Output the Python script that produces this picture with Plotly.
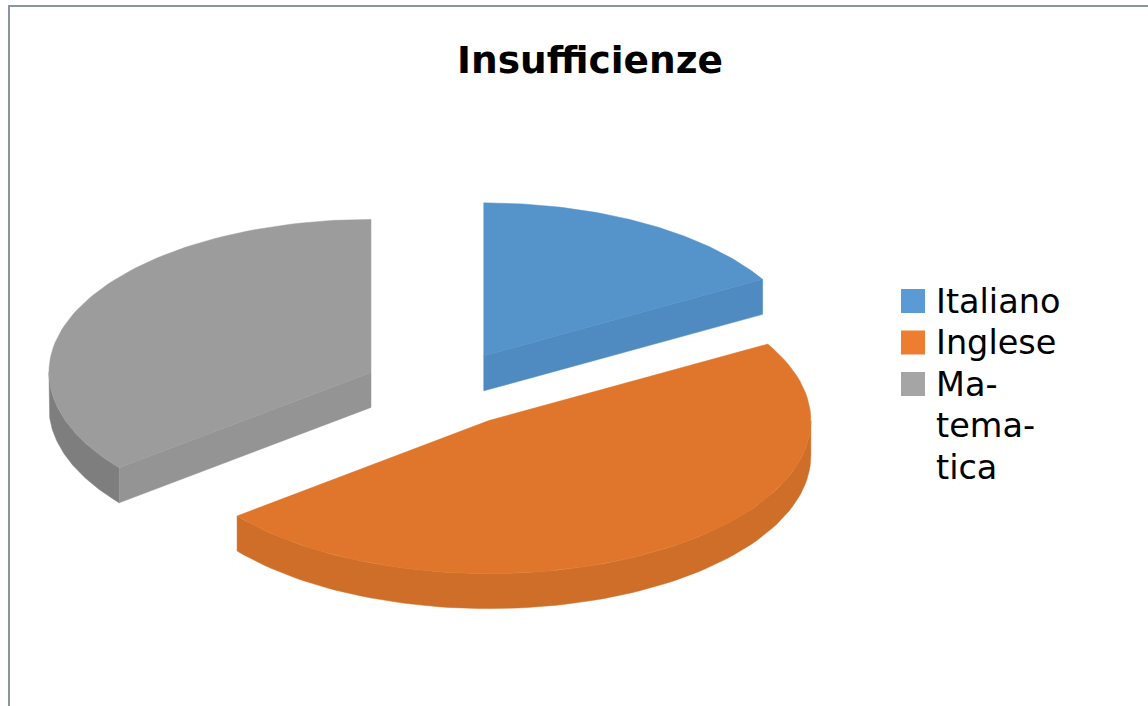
import math
import plotly.graph_objects as go

title = "Insufficienze"
categories = ["Italiano", "Inglese", "Matematica"]
legend_rows = [["Italiano"], ["Inglese"], ["Ma-", "tema-", "tica"]]
values = [7, 20, 15]
top_colors = ["#5593CB", "#E0762C", "#9C9C9C"]
face_colors = ["#4F8AC0", "#CA6A25", "#949494"]
rim_colors = ["#4F8AC0", "#CF6E28", "#7E7E7E"]
swatch_colors = ["#5B9BD5", "#ED7D31", "#A5A5A5"]

W, H = 1148, 706
CX, CY = 443.5, 389    # pie centre before explosion
RX, RY = 322, 153      # ellipse radii
DEPTH = 35
EXPLODE = 0.25


def pt(c, t, r=1.0):
    return c[0] + RX * r * math.sin(t), c[1] - RY * r * math.cos(t)


def arc(c, t0, t1, n=80, dy=0):
    pts = [pt(c, t0 + (t1 - t0) * i / n) for i in range(n + 1)]
    return [p[0] for p in pts], [p[1] + dy for p in pts]


fig = go.Figure()


def poly(xs, ys, color, name):
    fig.add_trace(go.Scatter(x=xs + xs[:1], y=ys + ys[:1], mode="lines", fill="toself",
                             fillcolor=color, line=dict(color=color, width=0.5),
                             showlegend=False, name=name, hoverinfo="name"))


total = sum(values)
start = 0.0
for i, v in enumerate(values):
    end = start + v / total * 2 * math.pi
    c = pt((CX, CY), (start + end) / 2, EXPLODE)
    # visible outer wall (front half of the ellipse)
    lo, hi = max(start, math.pi / 2), min(end, 3 * math.pi / 2)
    if lo < hi:
        ax, ay = arc(c, lo, hi)
        bx, by = arc(c, hi, lo, dy=DEPTH)
        poly(ax + bx, ay + by, rim_colors[i], categories[i])
    # visible radial cut faces: the ones turned towards the viewer
    for t, show in ((end, i == 0), (start, i == 2)):
        if show:
            p = pt(c, t)
            poly([c[0], p[0], p[0], c[0]], [c[1], p[1], p[1] + DEPTH, c[1] + DEPTH],
                 face_colors[i], categories[i])
    # top surface
    ax, ay = arc(c, start, end)
    poly([c[0]] + ax, [c[1]] + ay, top_colors[i], categories[i])
    start = end

# legend
LEGEND_TOP, LINE_H = 301, 41.5
SWATCH_X, TEXT_X = 913, 937
row = 0
swatch_y = []
for rows in legend_rows:
    swatch_y.append(LEGEND_TOP + row * LINE_H)
    for line in rows:
        fig.add_annotation(x=TEXT_X, y=LEGEND_TOP + row * LINE_H, xref="x", yref="y", text=line,
                           showarrow=False, xanchor="left", yanchor="middle", align="left",
                           xshift=-3, font=dict(family="DejaVu Sans", size=33.5, color="#000000"))
        row += 1
fig.add_trace(go.Scatter(x=[SWATCH_X] * 3, y=swatch_y, mode="markers",
                         marker=dict(symbol="square", size=24, color=swatch_colors, line=dict(width=0)),
                         showlegend=False, hoverinfo="skip"))

fig.update_layout(
    width=W, height=H, margin=dict(l=0, r=0, t=0, b=0),
    paper_bgcolor="#FFFFFF", plot_bgcolor="#FFFFFF",
    title=dict(text="<b>" + title + "</b>", x=590 / W, xanchor="center", y=1 - 60 / H, yanchor="middle",
               font=dict(family="DejaVu Sans", size=37.5, color="#000000")),
    xaxis=dict(range=[0, W], visible=False, fixedrange=True),
    yaxis=dict(range=[H, 0], visible=False, fixedrange=True),
    showlegend=False,
    shapes=[dict(type="path", path=f"M 9 {H} L 9 6 L {W} 6", xref="x", yref="y",
                 line=dict(color="#8A94A3", width=2))],
)
fig.write_html("out.html", config=dict(displayModeBar=False),
               post_script="document.body.style.margin='0';document.documentElement.style.overflow='hidden';")
